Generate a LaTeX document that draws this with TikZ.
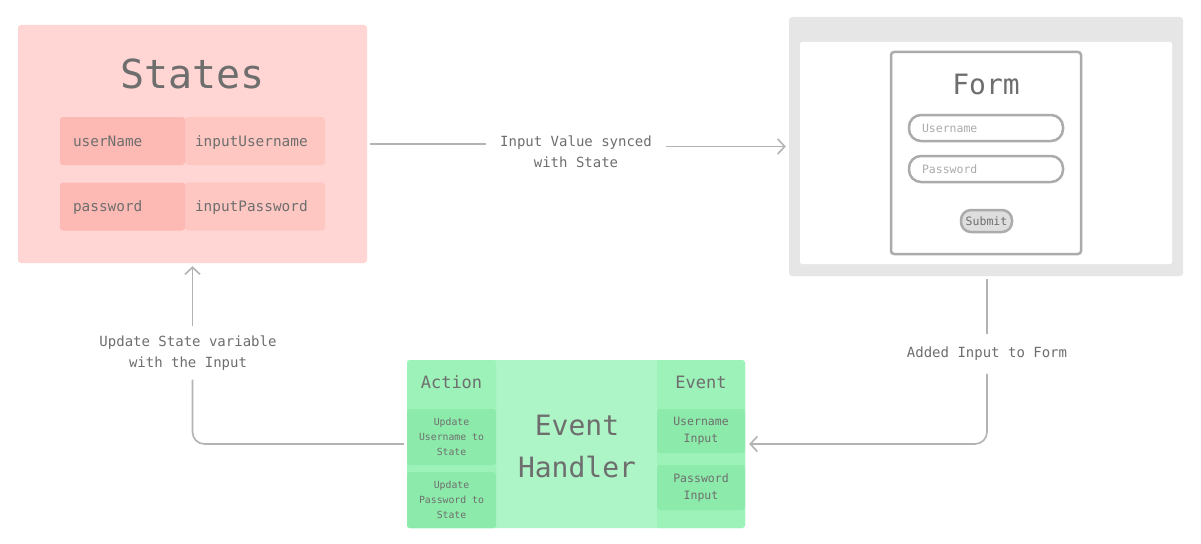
\documentclass[tikz,border=0pt]{standalone}
\usepackage{fontspec}
\setmainfont{DejaVu Sans Mono}
\usetikzlibrary{arrows.meta}

\definecolor{txtgray}{HTML}{6E6E6E}
\definecolor{linegray}{HTML}{B3B3B3}
\definecolor{formgray}{HTML}{ABABAB}
\definecolor{statesbg}{HTML}{FFD6D3}
\definecolor{rowlight}{HTML}{FEC7C2}
\definecolor{rowdark}{HTML}{FDB9B4}
\definecolor{browserbg}{HTML}{E6E6E6}
\definecolor{submitbg}{HTML}{DEDEDE}
\definecolor{handlerbg}{HTML}{ADF5C6}
\definecolor{colbg}{HTML}{9CF2B9}
\definecolor{subbg}{HTML}{8CEBAA}

\begin{document}
\begin{tikzpicture}[x=1pt,y=-1pt]
            \tikzstyle{every node}+=[inner sep=0pt, text=txtgray]
            \tikzstyle{flow}=[draw=linegray, line width=1.6pt]
            \tikzstyle{tip}=[-{Straight Barb[length=7pt,width=15pt]}]
            \tikzstyle{lbl}=[font=\fontsize{14}{21}\selectfont, align=center, fill=white]
            \tikzstyle{keycell}=[fill=rowdark, rounded corners=3pt, minimum width=125pt, minimum height=48pt,
                text width=99pt, inner xsep=13pt, align=left, text height=12pt, text depth=2pt,
                font=\fontsize{14.4}{17}\selectfont]
            \tikzstyle{valcell}=[fill=rowlight, rounded corners=3pt, minimum width=140pt, minimum height=48pt,
                text width=120pt, inner xsep=10pt, align=left, text height=12pt, text depth=2pt,
                font=\fontsize{14.4}{17}\selectfont]
            \tikzstyle{field}=[draw=formgray, line width=2.5pt, rounded corners=12pt, minimum width=154pt,
                minimum height=26pt, text width=128pt, inner xsep=13pt, align=left, text=formgray,
                text height=9pt, text depth=1pt, font=\fontsize{11.5}{14}\selectfont]
            \tikzstyle{column}=[fill=colbg, rounded corners=3pt, minimum height=168pt]
            \tikzstyle{sub}=[fill=subbg, rounded corners=3pt, align=center]
            \path[fill=white, use as bounding box] (0,0) rectangle (1201,543);
            % states
            \node [fill=statesbg, rounded corners=3pt, minimum width=349pt, minimum height=238pt] (states) at (192.5,144) {};
            \node [font=\fontsize{40}{48}\selectfont] (statesttl) at (192.5,74) {States};
            \node [valcell] (uval) at (255,141) {inputUsername};
            \node [keycell] (ukey) at (122.5,141) {userName};
            \node [valcell] (pval) at (255,206.5) {inputPassword};
            \node [keycell] (pkey) at (122.5,206.5) {password};
            % browser with form
            \node [fill=browserbg, rounded corners=3pt, minimum width=394pt, minimum height=259pt] (browser) at (986,146.5) {};
            \node [fill=white, rounded corners=2pt, minimum width=372pt, minimum height=222pt] (page) at (986,153) {};
            \node [draw=formgray, line width=2.5pt, rounded corners=3pt, minimum width=190pt, minimum height=202pt] (form) at (986,153) {};
            \node [font=\fontsize{28}{34}\selectfont] (formttl) at (986,84) {Form};
            \node [field] (ufield) at (986,128) {Username};
            \node [field] (pfield) at (986,169) {Password};
            \node [draw=formgray, fill=submitbg, line width=2.5pt, rounded corners=10pt, minimum width=51pt,
                minimum height=22pt, font=\fontsize{11.5}{14}\selectfont] (submit) at (986.5,221) {Submit};
            % event handler
            \node [fill=handlerbg, rounded corners=3pt, minimum width=338pt, minimum height=168pt] (handler) at (576,444) {};
            \node [column, minimum width=89pt] (actcol) at (451.5,444) {};
            \node [column, minimum width=88pt] (evcol) at (701,444) {};
            \node [font=\fontsize{17}{20}\selectfont] (actttl) at (451.5,382) {Action};
            \node [font=\fontsize{17}{20}\selectfont] (evttl) at (701,382) {Event};
            \node [sub, minimum width=89pt, minimum height=56pt, font=\fontsize{9.8}{15}\selectfont] (uact) at (451.5,437) {Update\\Username to\\State};
            \node [sub, minimum width=89pt, minimum height=56pt, font=\fontsize{9.8}{15}\selectfont] (pact) at (451.5,500) {Update\\Password to\\State};
            \node [sub, minimum width=88pt, minimum height=44pt, font=\fontsize{11.5}{17}\selectfont] (uev) at (701,431) {Username\\Input};
            \node [sub, minimum width=88pt, minimum height=45pt, font=\fontsize{11.5}{17}\selectfont] (pev) at (701,487.5) {Password\\Input};
            \node [font=\fontsize{28}{42}\selectfont, align=center] (hdlttl) at (577,446) {Event\\Handler};
            % labels on the connectors
            \node [lbl, inner xsep=14pt, inner ysep=4pt] (sync) at (576,152) {Input Value synced\\with State};
            \node [lbl, inner xsep=4pt, inner ysep=13pt] (added) at (987,354) {Added Input to Form};
            \node [lbl, inner xsep=4pt, inner ysep=9pt] (update) at (188,353) {Update State variable\\with the Input};
            % connectors
            \draw [flow, shorten <=3pt] (states.east) -- (states.east -| sync.west);
            \draw [flow, tip, shorten >=3pt] (browser.west -| sync.east) -- (browser.west);
            \draw [flow, shorten <=3pt] (browser.south -| added.north) -- (added.north);
            \draw [flow, tip, rounded corners=12pt, shorten >=4pt] (added.south) |- (handler.east);
            \draw [flow, rounded corners=12pt, shorten <=3pt] (handler.west) -| (states.south |- update.south);
            \draw [flow, tip, shorten >=3pt] (states.south |- update.north) -- (states.south);
        \end{tikzpicture}
\end{document}
